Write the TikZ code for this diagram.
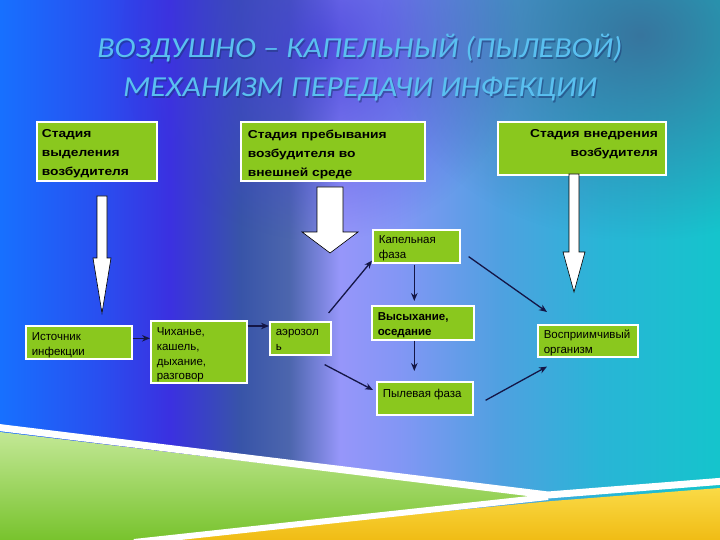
\documentclass[tikz,border=0pt]{standalone}
\usepackage{fontspec}
\setmainfont{Liberation Sans}
\newfontfamily\titlefont[FakeStretch=1.1]{Carlito}
\newfontfamily\bigboxfont[FakeStretch=1.2]{Liberation Sans}
\usetikzlibrary{fadings,arrows.meta}
\definecolor{boxgreen}{RGB}{138,200,30}
\definecolor{navy}{RGB}{20,22,70}
\definecolor{titleblue}{RGB}{90,192,240}
\definecolor{titleshadow}{RGB}{25,50,110}
\definecolor{topveil}{RGB}{60,100,145}
\definecolor{purpleveil}{RGB}{65,60,215}
\definecolor{greenlight}{RGB}{195,232,150}
\definecolor{greendark}{RGB}{120,195,45}
\definecolor{goldlight}{RGB}{250,218,70}
\definecolor{golddark}{RGB}{240,188,20}
\pgfdeclarehorizontalshading{bgshade}{100bp}{
 rgb(0bp)=(0.09,0.44,1);
 rgb(25bp)=(0.09,0.44,1);
 rgb(31.9bp)=(0.16,0.31,0.94);
 rgb(36.8bp)=(0.23,0.19,0.88);
 rgb(41.7bp)=(0.22,0.33,0.66);
 rgb(45.1bp)=(0.30,0.40,0.68);
 rgb(48.6bp)=(0.59,0.59,0.98);
 rgb(52.8bp)=(0.51,0.59,0.96);
 rgb(59.7bp)=(0.31,0.63,0.88);
 rgb(66.7bp)=(0.16,0.71,0.84);
 rgb(75bp)=(0.08,0.77,0.80);
 rgb(100bp)=(0.08,0.77,0.80)}
\tikzfading[name=veilfade, inner color=transparent!0, outer color=transparent!100]
\newcommand{\bt}[3]{\parbox[c][#2][t]{#1}{\vphantom{Н}#3}}
\tikzset{
 gbox/.style={draw=white, line width=1.6pt, fill=boxgreen, anchor=north west,
   inner xsep=6pt, inner ysep=6pt, text=black, font=\fontsize{11.5}{15}\selectfont},
 bigbox/.style={gbox, inner xsep=5pt, inner ysep=8pt,
   font=\bigboxfont\bfseries\fontsize{11.5}{19}\selectfont},
 conn/.style={draw=navy, line width=1.3pt, -{Stealth[length=8pt,width=6.5pt]}},
 blockarrow/.style={fill=white, draw=black, line width=0.6pt},
 titletext/.style={font=\titlefont\itshape\fontsize{29}{34}\selectfont, anchor=base, text=titleblue},
 titleshade/.style={titletext, text=titleshadow, opacity=0.5}
}
\begin{document}
\begin{tikzpicture}[x=1pt,y=-1pt]
\useasboundingbox (0,0) rectangle (720,540);
% background
\shade[shading=bgshade] (0,0) rectangle (720,540);
\fill[purpleveil, path fading=veilfade, fill opacity=0.8] (120,-150) rectangle (520,240);
\fill[topveil, path fading=veilfade, fill opacity=0.8] (380,-170) rectangle (900,240);
% bottom decoration
\shade[top color=greenlight, bottom color=greendark] (0,432) -- (548,497) -- (138,540) -- (0,540) -- cycle;
\shade[top color=goldlight, bottom color=golddark] (142,540) -- (552,501) -- (720,488) -- (720,540) -- cycle;
\draw[white, line width=7pt] (-5,427) -- (548,495) -- (725,481);
\draw[white, line width=6pt] (548,497) -- (134,542);
% title
\node[titleshade] (t1s) at (361.2,59.2) {ВОЗДУШНО – КАПЕЛЬНЫЙ (ПЫЛЕВОЙ)};
\node[titletext] (t1) at (360,58) {ВОЗДУШНО – КАПЕЛЬНЫЙ (ПЫЛЕВОЙ)};
\node[titleshade] (t2s) at (361.2,98.2) {МЕХАНИЗМ ПЕРЕДАЧИ ИНФЕКЦИИ};
\node[titletext] (t2) at (360,97) {МЕХАНИЗМ ПЕРЕДАЧИ ИНФЕКЦИИ};
% stage boxes
\node[bigbox] (s1) at (36,121) {\bt{110pt}{43pt}{\raggedright Стадия\\выделения\\возбудителя}};
\node[bigbox, inner xsep=7pt] (s2) at (240,121) {\bt{170pt}{43pt}{\raggedright Стадия пребывания\\возбудителя во\\внешней среде}};
\node[bigbox, inner xsep=8pt] (s3) at (497,121) {\bt{152pt}{37pt}{\raggedleft Стадия внедрения\\возбудителя}};
% block arrows
\draw[blockarrow] (97,196) -- (107,196) -- (107,258) -- (111,258) -- (102,313) -- (93,258) -- (97,258) -- cycle;
\draw[blockarrow] (317,187) -- (343,187) -- (343,232) -- (358,232) -- (330,253) -- (302,232) -- (317,232) -- cycle;
\draw[blockarrow] (569,174) -- (579,174) -- (579,252) -- (585,252) -- (574,292) -- (563,252) -- (569,252) -- cycle;
% small boxes
\node[gbox, inner ysep=7pt] (ist) at (25,325) {\bt{94pt}{19pt}{\raggedright Источник\\инфекции}};
\node[gbox, inner ysep=7pt] (chi) at (150,320) {\bt{84pt}{48pt}{\raggedright\baselineskip=14.7pt Чиханье,\\кашель,\\дыхание,\\разговор}};
\node[gbox] (aer) at (269,321) {\bt{49pt}{21pt}{\raggedright аэрозол\\ь}};
\node[gbox] (kap) at (372,229) {\bt{75pt}{21pt}{\raggedright Капельная\\фаза}};
\node[gbox, inner ysep=7pt, font=\bfseries\fontsize{11.5}{15}\selectfont] (vys) at (371,305) {\bt{90pt}{20pt}{\raggedright Высыхание,\\оседание}};
\node[gbox, inner ysep=7pt] (pyl) at (376,381) {\bt{84pt}{19pt}{\raggedright Пылевая фаза}};
\node[gbox, inner ysep=5pt] (vos) at (537,324) {\bt{88pt}{22pt}{\raggedright Восприимчивый\\организм}};
% connectors
\draw[conn] ([yshift=4pt]ist.east) -- ([yshift=4pt]ist.east -| chi.west);
\draw[conn] ([yshift=-6pt]chi.north east) -- ([yshift=-6pt]chi.north east -| aer.west);
\draw[conn] ([xshift=-3pt,yshift=8pt]aer.north east) -- ([yshift=3pt]kap.south west);
\draw[conn] ([xshift=-7pt,yshift=-9pt]aer.south east) -- ([xshift=-3pt,yshift=-9pt]pyl.north west);
\draw[conn, shorten <=1pt, shorten >=4pt] ([xshift=-2pt]kap.south) -- ([xshift=-2pt]kap.south |- vys.north);
\draw[conn, shorten >=10pt] ([xshift=-2pt]kap.south |- vys.south) -- ([xshift=-2pt]kap.south |- pyl.north);
\draw[conn] ([xshift=8pt,yshift=7pt]kap.south east) -- ([xshift=10pt,yshift=12pt]vos.north west);
\draw[conn] ([xshift=12pt,yshift=-2pt]pyl.east) -- ([xshift=10pt,yshift=-9pt]vos.south west);
\end{tikzpicture}
\end{document}
